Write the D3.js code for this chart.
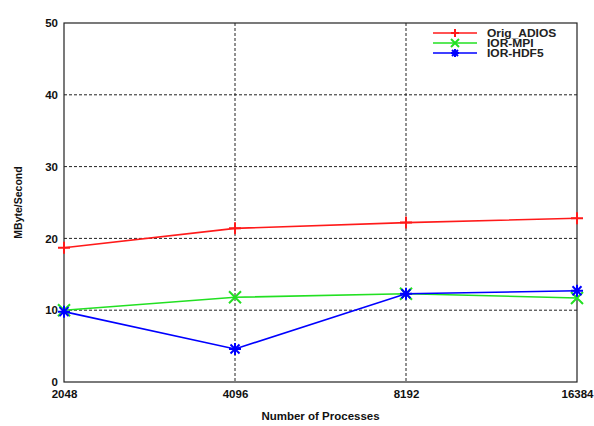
<!DOCTYPE html>
<html><head><meta charset="utf-8">
<script src="https://cdn.jsdelivr.net/npm/d3@7"></script>
<style>body{margin:0;background:#fff}svg{display:block}</style>
</head><body>
<svg id="c" width="594" height="426"></svg>
<script>
const categories = [2048, 4096, 8192, 16384];
const origAdios = [18.7, 21.4, 22.2, 22.8];
const iorMpi = [10.0, 11.8, 12.3, 11.7];
const iorHdf5 = [9.8, 4.6, 12.3, 12.7];
const yTicks = [0, 10, 20, 30, 40, 50];
const seriesNames = ["Orig_ADIOS", "IOR-MPI", "IOR-HDF5"];
const seriesColors = ["#ff1a1a", "#22e022", "#0000ff"];
const seriesMarkers = ["plus", "cross", "star"];
const seriesValues = [origAdios, iorMpi, iorHdf5];

const svg = d3.select("#c");
const L = 64, R = 577, T = 23, B = 382;
const x = d3.scaleLog().base(2).domain([2048, 16384]).range([L, R]);
const y = d3.scaleLinear().domain([0, 50]).range([B, T]);
const font = "Arial, 'Liberation Sans', sans-serif";

// grid
const g = svg.append("g");
g.selectAll(".gy").data(yTicks.slice(1, -1)).enter().append("line")
  .attr("x1", L).attr("x2", R).attr("y1", d => y(d)).attr("y2", d => y(d))
  .attr("stroke", "#222").attr("stroke-width", 1).attr("stroke-dasharray", "3,2");

svg.append("rect").attr("x", 408).attr("y", T + 1).attr("width", R - 409).attr("height", 40)
  .attr("fill", "#fff").attr("stroke", "none");

svg.append("g").selectAll("line").data(categories.slice(1, -1)).enter().append("line")
  .attr("x1", d => x(d)).attr("x2", d => x(d)).attr("y1", T).attr("y2", B)
  .attr("stroke", "#222").attr("stroke-width", 1).attr("stroke-dasharray", "3,2");

// axes
const xAxis = d3.axisBottom(x).tickValues(categories).tickFormat(d3.format("d")).tickSize(0).tickPadding(6);
const yAxis = d3.axisLeft(y).tickValues(yTicks).tickSize(0).tickPadding(6);
const ax = svg.append("g").attr("transform", `translate(0,${B})`).call(xAxis);
const ay = svg.append("g").attr("transform", `translate(${L},0)`).call(yAxis);
[ax, ay].forEach(a => {
  a.select(".domain").remove();
  a.selectAll("text").attr("font-family", font).attr("font-size", 11.5).attr("font-weight", "bold").attr("fill", "#111");
});
ax.selectAll("text").attr("dy", "0.9em");
svg.append("rect").attr("x", L).attr("y", T).attr("width", R - L).attr("height", B - T)
  .attr("fill", "none").attr("stroke", "#222").attr("stroke-width", 1.2);

function marker(sel, type, color, s) {
  if (type === "plus") {
    sel.append("path").attr("d", `M${-s},0H${s}M0,${-s}V${s}`);
  } else if (type === "cross") {
    sel.append("path").attr("d", `M${-s},${-s}L${s},${s}M${-s},${s}L${s},${-s}`);
  } else {
    sel.append("path").attr("d", `M${-s},0H${s}M0,${-s}V${s}M${-s*0.75},${-s*0.75}L${s*0.75},${s*0.75}M${-s*0.75},${s*0.75}L${s*0.75},${-s*0.75}`);
  }
  sel.selectAll("path").attr("stroke", color).attr("stroke-width", 2).attr("fill", "none");
}

const line = d3.line().x((d, i) => x(categories[i])).y(d => y(d));
seriesValues.forEach((vals, k) => {
  svg.append("path").datum(vals).attr("d", line).attr("fill", "none")
    .attr("stroke", seriesColors[k]).attr("stroke-width", 1.6);
  vals.forEach((v, i) => {
    const m = svg.append("g").attr("transform", `translate(${x(categories[i])},${y(v)})`);
    marker(m, seriesMarkers[k], seriesColors[k], 6);
  });
});

// legend
const lg = svg.append("g");
seriesNames.forEach((n, k) => {
  const yy = 33 + k * 10;
  lg.append("line").attr("x1", 433).attr("x2", 477).attr("y1", yy).attr("y2", yy)
    .attr("stroke", seriesColors[k]).attr("stroke-width", 1.6);
  const m = lg.append("g").attr("transform", `translate(455,${yy})`);
  marker(m, seriesMarkers[k], seriesColors[k], 4);
  lg.append("text").attr("transform", `translate(487,${yy}) scale(1.2,1)`).attr("dy", "0.35em").text(n)
    .attr("font-family", font).attr("font-size", 10).attr("font-weight", "bold").attr("fill", "#222");
});

// labels
svg.append("text").attr("x", (L + R) / 2).attr("y", 420).attr("text-anchor", "middle")
  .attr("font-family", font).attr("font-size", 11.5).attr("font-weight", "bold").attr("fill", "#111")
  .text("Number of Processes");
svg.append("text").attr("transform", `translate(22,${(T + B) / 2}) rotate(-90)`).attr("text-anchor", "middle")
  .attr("font-family", font).attr("font-size", 10.5).attr("font-weight", "bold").attr("fill", "#111")
  .text("MByte/Second");
</script>
</body></html>
